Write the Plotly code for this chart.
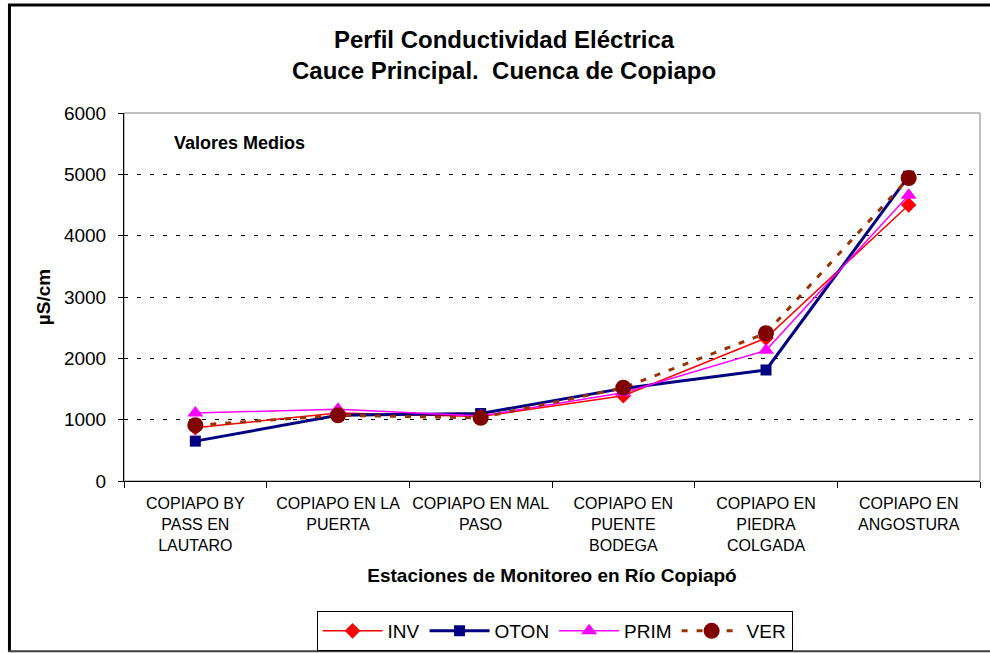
import plotly.graph_objects as go

categories = [
    "COPIAPO BY<br>PASS EN<br>LAUTARO",
    "COPIAPO EN LA<br>PUERTA",
    "COPIAPO EN MAL<br>PASO",
    "COPIAPO EN<br>PUENTE<br>BODEGA",
    "COPIAPO EN<br>PIEDRA<br>COLGADA",
    "COPIAPO EN<br>ANGOSTURA",
]
inv = [870, 1110, 1050, 1390, 2330, 4500]
oton = [650, 1070, 1100, 1510, 1810, 4970]
prim = [1110, 1170, 1060, 1440, 2130, 4660]
ver = [910, 1070, 1030, 1520, 2410, 4940]
y_ticks = [0, 1000, 2000, 3000, 4000, 5000, 6000]

FONT = "Liberation Sans, Arial, sans-serif"

fig = go.Figure()
fig.add_trace(go.Scatter(x=categories, y=inv, name="INV", mode="lines+markers",
                         line=dict(color="#FF0000", width=1.5),
                         marker=dict(symbol="diamond", size=12, color="#FF0000")))
fig.add_trace(go.Scatter(x=categories, y=oton, name="OTON", mode="lines+markers",
                         line=dict(color="#000080", width=3),
                         marker=dict(symbol="square", size=11, color="#000080")))
fig.add_trace(go.Scatter(x=categories, y=prim, name="PRIM", mode="lines+markers",
                         line=dict(color="#FF00FF", width=1.5),
                         marker=dict(symbol="triangle-up", size=14, color="#FF00FF")))
fig.add_trace(go.Scatter(x=categories, y=ver, name="VER", mode="lines+markers",
                         line=dict(color="#993300", width=3, dash="6px,9px"),
                         marker=dict(symbol="circle", size=16, color="#800000")))

fig.update_layout(
    width=990, height=653,
    margin=dict(l=124, r=10, t=113, b=172, autoexpand=False),
    paper_bgcolor="white", plot_bgcolor="white",
    font=dict(family=FONT, color="black", size=16),
    showlegend=True,
    legend=dict(orientation="h", x=0.503, xanchor="center",
                yref="container", y=1 - 611 / 653, yanchor="top",
                bordercolor="black", borderwidth=1, font=dict(size=19, family=FONT),
                itemwidth=60, tracegroupgap=0),
    xaxis=dict(
        type="category", range=[-0.5, 5.5], tickson="boundaries", ticks="outside",
        ticklen=6, tickcolor="black", showline=True, linecolor="black", linewidth=1,
        showgrid=False, tickfont=dict(size=16, family=FONT), ticklabelstandoff=8,
        tickangle=0,
        title=dict(text="<b>Estaciones de Monitoreo en Río Copiapó</b>",
                   font=dict(size=19, family=FONT), standoff=15),
    ),
    yaxis=dict(
        range=[0, 6000], tickvals=y_ticks, ticks="outside", ticklen=5,
        tickcolor="black", showline=True, linecolor="black", linewidth=1,
        showgrid=True, gridcolor="black", gridwidth=1, griddash="4px,9px",
        zeroline=False, tickfont=dict(size=19, family=FONT), ticklabelstandoff=8,
        title=dict(text="<b>µS/cm</b>", font=dict(size=19, family=FONT), standoff=8),
    ),
    shapes=[
        dict(type="rect", xref="paper", yref="paper", x0=0, x1=1, y0=0, y1=1,
             line=dict(color="#808080", width=1), layer="below"),
        dict(type="line", xref="paper", yref="paper", x0=-0.1338, x1=-0.1338,
             y0=-0.462, y1=1.2935, line=dict(color="black", width=3)),
        dict(type="line", xref="paper", yref="paper", x0=-0.1355, x1=1.02,
             y0=1.2935, y1=1.2935, line=dict(color="black", width=3)),
        dict(type="line", xref="paper", yref="paper", x0=-0.1355, x1=1.02,
             y0=-0.4625, y1=-0.4625, line=dict(color="#404040", width=2)),
    ],
    annotations=[
        dict(text="<b>Perfil Conductividad Eléctrica<br>Cauce Principal.  Cuenca de Copiapo</b>",
             xref="paper", yref="paper", x=0.444, y=(481 - 55) / 368, xanchor="center",
             yanchor="middle", showarrow=False, font=dict(size=24, family=FONT),
             align="center"),
        dict(text="<b>Valores Medios</b>", xref="paper", yref="paper",
             x=(172 - 124) / 856, y=(481 - 143) / 368, xanchor="left", yanchor="middle",
             showarrow=False, font=dict(size=18, family=FONT)),
    ],
)

fig.write_html("out.html", config={"displayModeBar": False},
               post_script="document.body.style.margin='0px';")
